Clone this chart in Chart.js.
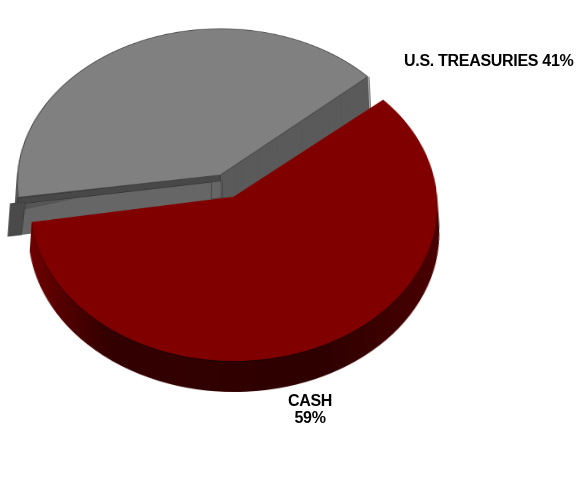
<!DOCTYPE html>
<html>
<head>
<meta charset="utf-8">
<script src="https://cdn.jsdelivr.net/npm/chart.js@4"></script>
<style>
  html, body { margin: 0; padding: 0; width: 580px; height: 501px; overflow: hidden; background: #fff; }
  #wrap { position: absolute; left: -93px; top: -134px; width: 640px; height: 640px;
          transform-origin: 320px 320px; transform: perspective(2550px) rotateX(40.4deg); }
  .lbl { position: absolute; font: bold 16px "Liberation Sans", Arial, sans-serif; color: #000;
         text-align: center; line-height: 17px; white-space: nowrap; letter-spacing: -0.3px; }
</style>
</head>
<body>
<div id="wrap"><canvas id="pie" width="640" height="640"></canvas></div>
<div class="lbl" id="lblCash" style="left:270px; top:392px; width:80px;"></div>
<div class="lbl" id="lblTsy" style="left:404px; top:52px;"></div>
<script>
// data
const categories = ['CASH', 'U.S. TREASURIES'];
const shares = [59, 41];
const topColors = ['#800000', '#808080'];
const sideColors = ['#2e0000', '#5a5a5a'];

document.getElementById('lblCash').innerHTML = categories[0] + '<br>' + shares[0] + '%';
document.getElementById('lblTsy').textContent = categories[1] + ' ' + shares[1] + '%';

// pie wall thickness, canvas px before the css tilt
const DEPTH = 36;
// the grey wall runs on behind the red slice so no gap shows
const GRAY_DEPTH = 48;
// the grey slice sits further back, so it gets a bit more radius
const GRAY_EXTRA = 10;

// draws an arc again with another colour
function drawAs(arc, ctx, color) {
  const saved = arc.options;
  arc.options = Object.create(saved, {
    backgroundColor: { value: color },
    borderColor: { value: color },
  });
  arc.draw(ctx);
  arc.options = saved;
}

// polygon along the radial line of a slice. each point is [distance from apex, depth]
function face(ctx, arc, angle, pts, fill, stroke) {
  const off = arc.options.offset / 4;
  const mid = (arc.startAngle + arc.endAngle) / 2;
  const ax = arc.x + Math.cos(mid) * off;
  const ay = arc.y + Math.sin(mid) * off;
  ctx.beginPath();
  pts.forEach(([r, d], i) => {
    const x = ax + Math.cos(angle) * r;
    const y = ay + Math.sin(angle) * r + d;
    if (i === 0) ctx.moveTo(x, y); else ctx.lineTo(x, y);
  });
  ctx.closePath();
  if (fill) { ctx.fillStyle = fill; ctx.fill(); }
  if (stroke) { ctx.strokeStyle = stroke; ctx.lineWidth = 0.8; ctx.stroke(); }
}

// the odd pieces on the cut side of the grey slice
function grayCutFace(ctx, arc) {
  // rim as it lands on the canvas, a little inside the nominal radius
  const R = arc.outerRadius + arc.options.offset / 4 - 8;
  const a = arc.startAngle;
  face(ctx, arc, a, [[0, 0], [R - 4, 0], [R - 4, GRAY_DEPTH], [0, GRAY_DEPTH]], '#666666');
  face(ctx, arc, a, [[R - 60, 9], [R - 6, 9], [R - 6, 16]], '#555555');
  face(ctx, arc, a, [[0, 0], [R, 0], [R, 8], [0, 8]], '#484848', '#333333');
  face(ctx, arc, a, [[R - 8, 6], [R + 7, 6], [R + 7, GRAY_DEPTH], [R - 6, GRAY_DEPTH]], '#4a4a4a', '#3a3a3a');
  face(ctx, arc, a, [[-2, 8], [9, 8], [9, 30], [-2, 30]], null, '#444444');
  // rim line where the other cut side ends
  face(ctx, arc, arc.endAngle, [[R, 0], [R, DEPTH + 7]], null, '#444444');
}

// fake 3d: walls are the same arcs repeated downwards
const walls = {
  id: 'walls',
  beforeDatasetsDraw(chart) {
    const ctx = chart.ctx;
    const arcs = chart.getDatasetMeta(0).data;
    const [cash, tsy] = arcs;

    const baseR = tsy.outerRadius;
    tsy.outerRadius = baseR + GRAY_EXTRA;
    for (let d = GRAY_DEPTH; d > 0; d--) {
      ctx.save();
      ctx.translate(0, d);
      drawAs(tsy, ctx, sideColors[1]);
      ctx.restore();
    }
    grayCutFace(ctx, tsy);
    ctx.save();
    tsy.draw(ctx);
    ctx.restore();
    tsy.outerRadius = baseR;

    const R = cash.outerRadius + 16;
    const grad = ctx.createLinearGradient(cash.x - R, 0, cash.x + R, 0);
    grad.addColorStop(0, '#700000');
    grad.addColorStop(0.07, '#5a0000');
    grad.addColorStop(0.2, '#340000');
    grad.addColorStop(0.7, sideColors[0]);
    grad.addColorStop(1, '#4a0000');
    for (let d = DEPTH; d > 1; d--) {
      ctx.save();
      ctx.translate(0, d);
      drawAs(cash, ctx, grad);
      ctx.restore();
    }
    ctx.save();
    ctx.translate(0, 1);
    drawAs(cash, ctx, '#1c0000');
    ctx.restore();
    ctx.save();
    cash.draw(ctx);
    ctx.restore();
    return false;
  },
  beforeDatasetDraw() {
    return false; // already drawn above, in the right order
  },
};

new Chart(document.getElementById('pie'), {
  type: 'pie',
  plugins: [walls],
  data: {
    labels: categories,
    datasets: [{
      data: shares,
      backgroundColor: topColors,
      borderColor: ['#800000', '#4a4a4a'],
      borderWidth: 1,
      radius: 186,
      offset: 64,
    }],
  },
  options: {
    responsive: false,
    animation: false,
    devicePixelRatio: 2,
    rotation: 49,
    layout: { padding: 0 },
    plugins: { legend: { display: false }, tooltip: { enabled: false } },
  },
});
</script>
</body>
</html>
